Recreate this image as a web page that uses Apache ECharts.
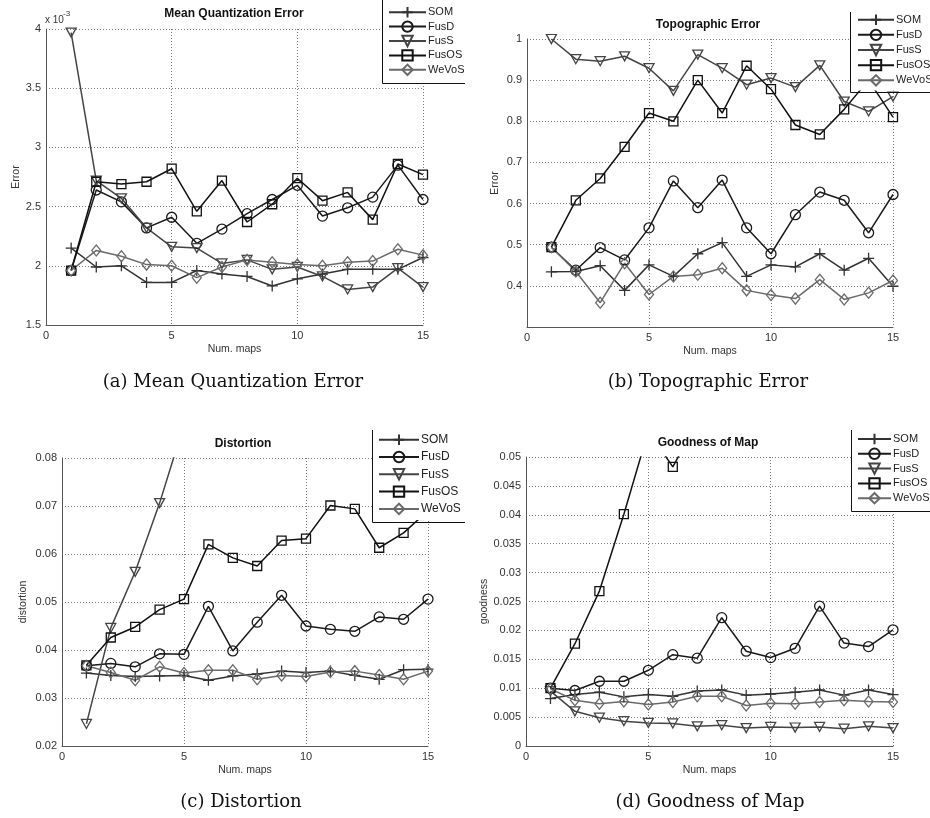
<!DOCTYPE html>
<html>
<head>
<meta charset="utf-8">
<script src="https://cdn.jsdelivr.net/npm/echarts@6/dist/echarts.min.js"></script>
<style>
html,body{margin:0;padding:0;background:#fff;}
#chart{width:930px;height:818px;}
</style>
</head>
<body>
<div id="chart"></div>
<script>
// ---------- DATA ----------
const numMaps = [1,2,3,4,5,6,7,8,9,10,11,12,13,14,15];
const seriesNames = ['SOM','FusD','FusS','FusOS','WeVoS'];

// (a) Mean Quantization Error, values in units of 1e-3
const mqeSOM   = [2.15,1.99,2.00,1.86,1.86,1.96,1.93,1.91,1.83,1.89,1.93,1.97,1.97,1.97,2.07];
const mqeFusD  = [1.96,2.64,2.54,2.32,2.41,2.19,2.31,2.44,2.56,2.68,2.42,2.49,2.58,2.85,2.56];
const mqeFusS  = [3.97,2.72,2.57,2.32,2.16,2.15,2.02,2.05,1.97,1.99,1.91,1.80,1.82,1.98,1.82];
const mqeFusOS = [1.96,2.71,2.69,2.71,2.82,2.46,2.72,2.37,2.52,2.74,2.55,2.62,2.39,2.86,2.77];
const mqeWeVoS = [1.96,2.13,2.08,2.01,2.00,1.90,1.99,2.05,2.03,2.01,2.00,2.03,2.04,2.14,2.09];

// (b) Topographic Error
const teSOM   = [0.434,0.435,0.449,0.389,0.451,0.423,0.478,0.505,0.423,0.451,0.446,0.478,0.438,0.467,0.399];
const teFusD  = [0.494,0.438,0.493,0.463,0.541,0.655,0.590,0.657,0.541,0.478,0.573,0.628,0.608,0.529,0.622];
const teFusS  = [1.000,0.951,0.946,0.958,0.929,0.874,0.962,0.929,0.889,0.905,0.883,0.936,0.848,0.824,0.860];
const teFusOS = [0.494,0.608,0.661,0.738,0.820,0.800,0.900,0.820,0.935,0.878,0.791,0.768,0.829,0.900,0.810];
const teWeVoS = [0.494,0.435,0.359,0.455,0.379,0.423,0.427,0.443,0.389,0.378,0.369,0.415,0.367,0.383,0.413];

// (c) Distortion
const distSOM   = [0.0352,0.0347,0.0345,0.0346,0.0347,0.0337,0.0346,0.0350,0.0356,0.0353,0.0356,0.0347,0.0339,0.0359,0.0360];
const distFusD  = [0.0367,0.0372,0.0365,0.0392,0.0391,0.0491,0.0398,0.0458,0.0514,0.0450,0.0443,0.0439,0.0469,0.0464,0.0506];
const distFusS  = [0.0246,0.0446,0.0563,0.0706,0.0870,null,null,null,null,null,null,null,null,null,null];
const distFusOS = [0.0368,0.0426,0.0448,0.0484,0.0506,0.0620,0.0592,0.0575,0.0628,0.0632,0.0701,0.0694,0.0613,0.0644,0.0690];
const distWeVoS = [0.0367,0.0353,0.0337,0.0365,0.0352,0.0358,0.0358,0.0339,0.0347,0.0345,0.0354,0.0356,0.0348,0.0339,0.0356];

// (d) Goodness of Map
const gomSOM   = [0.0082,0.0089,0.0093,0.0085,0.0089,0.0086,0.0095,0.0097,0.0088,0.0090,0.0093,0.0097,0.0088,0.0097,0.0089];
const gomFusD  = [0.0100,0.0096,0.0112,0.0112,0.0131,0.0158,0.0152,0.0222,0.0164,0.0153,0.0169,0.0242,0.0178,0.0172,0.0201];
const gomFusS  = [0.0095,0.0060,0.0049,0.0043,0.0040,0.0039,0.0034,0.0036,0.0031,0.0033,0.0032,0.0033,0.0030,0.0034,0.0031];
const gomFusOS = [0.0100,0.0177,0.0268,0.0401,0.0545,0.0483,0.0560,null,null,null,null,null,null,null,null];
const gomWeVoS = [0.0099,0.0079,0.0073,0.0077,0.0072,0.0076,0.0086,0.0086,0.0070,0.0074,0.0073,0.0076,0.0079,0.0077,0.0076];

const panelTitles = ['Mean Quantization Error','Topographic Error','Distortion','Goodness of Map'];
const captions = ['(a) Mean Quantization Error','(b) Topographic Error','(c) Distortion','(d) Goodness of Map'];
const yNames = ['Error','Error','distortion','goodness'];
const xName = 'Num. maps';
const yTicks = [
  {min:1.5, max:4, interval:0.5},
  {min:0.3, max:1, interval:0.1},
  {min:0.02, max:0.08, interval:0.01},
  {min:0, max:0.05, interval:0.005}
];
const xTicks = {min:0, max:15, interval:5};

// ---------- STYLE ----------
const panels = [
  [mqeSOM, mqeFusD, mqeFusS, mqeFusOS, mqeWeVoS],
  [teSOM, teFusD, teFusS, teFusOS, teWeVoS],
  [distSOM, distFusD, distFusS, distFusOS, distWeVoS],
  [gomSOM, gomFusD, gomFusS, gomFusOS, gomWeVoS]
];
const colors = ['#333333','#1a1a1a','#444444','#111111','#6a6a6a'];
const symbols = [
  {symbol:'path://M5,0L5,10M0,5L10,5', size:11},
  {symbol:'circle', size:10},
  {symbol:'path://M0,0L10,0L5,9Z', size:[10,9]},
  {symbol:'rect', size:9},
  {symbol:'diamond', size:[9,11]}
];
const grids = [
  {left:46, top:29, width:377, height:296},
  {left:527, top:39, width:366, height:288},
  {left:62, top:458, width:366, height:288},
  {left:526, top:457, width:367, height:289}
];
const yNameGaps = [23, 26, 33, 32];
const FONT = '"Liberation Sans", Arial, sans-serif';

const series = [];
panels.forEach((arrs, gi) => {
  arrs.forEach((arr, si) => {
    series.push({
      type:'line', name:seriesNames[si], xAxisIndex:gi, yAxisIndex:gi,
      data: numMaps.map((x,i) => [x, arr[i]]),
      symbol: symbols[si].symbol, symbolSize: symbols[si].size, showAllSymbol:true,
      clip:true, silent:true, animation:false, connectNulls:false,
      lineStyle:{color:colors[si], width:1.5},
      itemStyle:{color:'rgba(255,255,255,0)', borderColor:colors[si], borderWidth:1.3},
      emphasis:{disabled:true}
    });
  });
});

const xAxes = grids.map((g,i) => ({
  type:'value', gridIndex:i, min:xTicks.min, max:xTicks.max, interval:xTicks.interval,
  axisLine:{show:true, lineStyle:{color:'#555', width:1}},
  axisTick:{show:false},
  splitLine:{show:true, lineStyle:{color:'#777', type:[1,2], width:1}},
  axisLabel:{fontSize:11, color:'#333', margin:5, fontFamily:FONT},
  name:xName, nameLocation:'middle', nameGap:19,
  nameTextStyle:{fontSize:10.5, color:'#333', fontFamily:FONT}
}));
const yAxes = grids.map((g,i) => ({
  type:'value', gridIndex:i, min:yTicks[i].min, max:yTicks[i].max, interval:yTicks[i].interval,
  axisLine:{show:true, lineStyle:{color:'#555', width:1}},
  axisTick:{show:false},
  splitLine:{show:true, lineStyle:{color:'#777', type:[1,2], width:1}},
  axisLabel:{fontSize:11, color:'#333', margin:5, fontFamily:FONT, showMinLabel: i!==1},
  name:yNames[i], nameLocation:'middle', nameGap:yNameGaps[i],
  nameTextStyle:{fontSize:10.5, color:'#333', fontFamily:FONT}
}));

const legendCfg = [
  {left:382, top:1, padding:[5,4,5,6], itemGap:2, itemWidth:37, fontSize:11},
  {left:850, top:9.5, padding:[4,4,4,7], itemGap:2.75, itemWidth:36, fontSize:11},
  {left:372, top:429.5, padding:[4,4,5,6], itemGap:4.9, itemWidth:40, fontSize:12},
  {left:851, top:428.8, padding:[4,4,5,6], itemGap:2.4, itemWidth:33, fontSize:11}
];
const legends = legendCfg.map(c => ({
  orient:'vertical', left:c.left, top:c.top, padding:c.padding, itemGap:c.itemGap,
  itemWidth:c.itemWidth, itemHeight:13, backgroundColor:'#fff', borderWidth:0,
  selectedMode:false, data:seriesNames,
  textStyle:{fontSize:c.fontSize, color:'#222', fontFamily:FONT, padding:[0,0,0,-3]}
}));

const legendBorders = [
  [[382.5,0],[382.5,83.5],[465,83.5]],
  [[850.5,12],[850.5,92.5],[930,92.5]],
  [[372.5,430],[372.5,522.5],[465,522.5]],
  [[851.5,430],[851.5,511.5],[930,511.5]]
];

const textPos = {
  titles:[[234,14],[708,25],[243,444],[708,443]],
  captions:[[233,382],[708,382],[241,802],[710,802]]
};

const graphics = [];
legendBorders.forEach(p => graphics.push({
  type:'polyline', z:100, shape:{points:p}, style:{stroke:'#111', fill:null, lineWidth:1}
}));
panelTitles.forEach((t,i) => graphics.push({
  type:'text', z:100, x:textPos.titles[i][0], y:textPos.titles[i][1],
  style:{text:t, font:'bold 12px ' + FONT, fill:'#111', align:'center', verticalAlign:'middle'}
}));
captions.forEach((t,i) => graphics.push({
  type:'text', z:100, x:textPos.captions[i][0], y:textPos.captions[i][1],
  style:{text:t, font:'18px "DejaVu Serif", serif', fill:'#111', align:'center', verticalAlign:'middle'}
}));
graphics.push({
  type:'text', z:100, x:45, y:20,
  style:{text:'x 10', font:'10px ' + FONT, fill:'#333', align:'left', verticalAlign:'middle'}
});
graphics.push({
  type:'text', z:100, x:63, y:14,
  style:{text:'-3', font:'8px ' + FONT, fill:'#333', align:'left', verticalAlign:'middle'}
});

const chart = echarts.init(document.getElementById('chart'), null, {renderer:'canvas'});
chart.setOption({
  animation:false,
  backgroundColor:'#fff',
  grid: grids.map(g => Object.assign({containLabel:false, show:false}, g)),
  xAxis: xAxes,
  yAxis: yAxes,
  legend: legends,
  series: series,
  graphic: graphics
});
</script>
</body>
</html>
